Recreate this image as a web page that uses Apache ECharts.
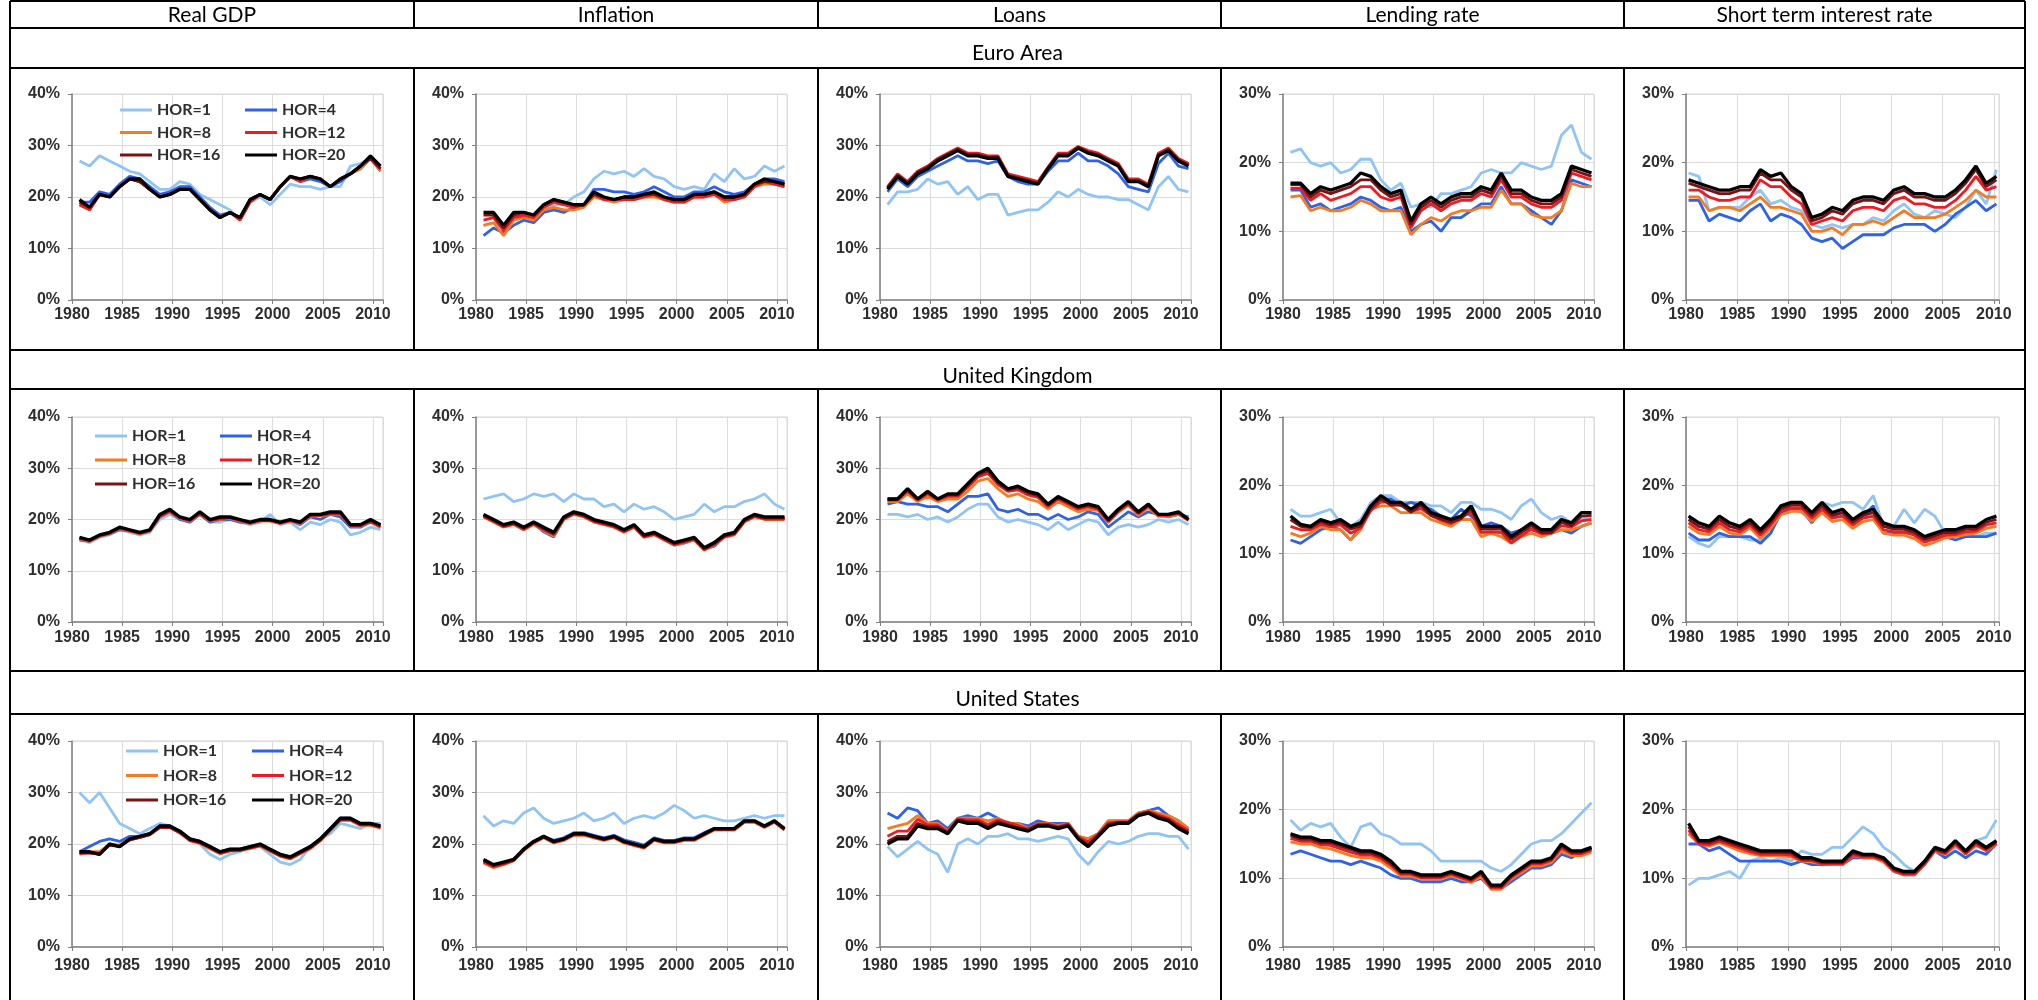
<!DOCTYPE html>
<html>
<head>
<meta charset="utf-8">
<title>Forecast error variance share by horizon</title>
<script src="https://cdn.jsdelivr.net/npm/echarts@6/dist/echarts.min.js"></script>
<style>
  html, body { margin: 0; padding: 0; background: #fff; }
  #chart { width: 2038px; height: 1000px; }
</style>
</head>
<body>
<div id="chart"></div>
<script>
// x positions: quarterly samples read once a year
const datesA = [1980.75,1981.75,1982.75,1983.75,1984.75,1985.75,1986.75,1987.75,1988.75,1989.75,1990.75,1991.75,1992.75,1993.75,1994.75,1995.75,1996.75,1997.75,1998.75,1999.75,2000.75,2001.75,2002.75,2003.75,2004.75,2005.75,2006.75,2007.75,2008.75,2009.75,2010.75];
const datesB = [1980.25,1981.25,1982.25,1983.25,1984.25,1985.25,1986.25,1987.25,1988.25,1989.25,1990.25,1991.25,1992.25,1993.25,1994.25,1995.25,1996.25,1997.25,1998.25,1999.25,2000.25,2001.25,2002.25,2003.25,2004.25,2005.25,2006.25,2007.25,2008.25,2009.25,2010.25];

const horizons = ['HOR=1', 'HOR=4', 'HOR=8', 'HOR=12', 'HOR=16', 'HOR=20'];
const columns = ['Real GDP', 'Inflation', 'Loans', 'Lending rate', 'Short term interest rate'];
const regions = ['Euro Area', 'United Kingdom', 'United States'];
const yMax = [40, 40, 40, 30, 30];

// each panel: rows are HOR=1, 4, 8, 12, 16, 20 (in %)
const eaGdp = [
  [27,26,28,27,26,25,24.5,23,21.5,21.5,23,22.5,20.5,19.5,18.5,17.5,15.5,19,20,18.5,20.5,22.5,22,22,21.5,22,22,26,26.5,27.5,25.5],
  [19,19,21,20.5,22.5,24,23.5,22,20.5,21,22,22,20,18,16.5,17,16,19.5,20.5,19.5,22,24,23,23.5,23,22,23,24.5,25.5,27.5,25],
  [18.5,17.5,20.5,20,22,23.5,23,21.5,20,20.5,21.5,21.5,19.5,17.5,16,17,15.5,19,20.5,19.5,22,24,23,24,23.5,22,23.5,24.5,25.5,27.5,25],
  [18.5,17.5,20.5,20,22,23.5,23,21.5,20,20.5,21.5,21.5,19.5,17.5,16,17,15.5,19,20.5,19.5,22,24,23,24,23.5,22,23.5,24.5,26,27.5,25.5],
  [19,18,20.5,20,22,23.5,23,21.5,20,20.5,21.5,21.5,19.5,17.5,16,17,16,19.5,20.5,19.5,22,24,23.5,24,23.5,22,23.5,24.5,26,27.5,25.5],
  [19.5,18,20.5,20,22,23.5,23.5,21.5,20,20.5,21.5,21.5,19.5,17.5,16,17,16,19.5,20.5,19.5,22,24,23.5,24,23.5,22,23.5,24.5,26,28,26]
];
const eaInf = [
  [14.5,15,14,15.5,16.5,15.5,17.5,18.5,18.5,20,21,23.5,25,24.5,25,24,25.5,24,23.5,22,21.5,22,21.5,24.5,23,25.5,23.5,24,26,25,26],
  [12.5,14,13,14.5,15.5,15,17,17.5,17,18,18.5,21.5,21.5,21,21,20.5,21,22,21,20,20,21,21,22,21,20.5,21,22.5,23.5,23.5,23],
  [14.5,15,12.5,15.5,16,15.5,17.5,18,17.5,17.5,18,20,19.5,19,19.5,19.5,20,20,19.5,19,19,20,20,20.5,19,19.5,20,22,22.5,22.5,22],
  [15.5,16,13.5,16,16.5,16,18,19,18.5,18,18.5,20.5,19.5,19.5,19.5,19.5,20,20.5,19.5,19,19,20,20,20.5,19.5,19.5,20,22,23,22.5,22],
  [16.5,16.5,14,16.5,17,16.5,18.5,19.5,19,18.5,18.5,20.5,20,19.5,20,20,20.5,20.5,20,19.5,19.5,20.5,20.5,21,20,20,20.5,22.5,23,23,22.5],
  [17,17,14.5,17,17,16.5,18.5,19.5,19,18.5,18.5,21,20,19.5,20,20,20.5,21,20,19.5,19.5,20.5,20.5,21,20,20,20.5,22.5,23.5,23,22.5]
];
const eaLoan = [
  [18.5,21,21,21.5,23.5,22.5,23,20.5,22,19.5,20.5,20.5,16.5,17,17.5,17.5,19,21,20,21.5,20.5,20,20,19.5,19.5,18.5,17.5,22,24,21.5,21],
  [21,23.5,22,24,25,26,27,28,27,27,26.5,27,24,23,22.5,22.5,25,27,27,28.5,27,27,26,24.5,22,21.5,21,26.5,28.5,26,25.5],
  [21.8,24.3,22.8,24.8,25.8,27.3,28.3,29.3,28.3,28.3,27.8,27.8,24.3,23.8,23.3,22.8,25.6,28.3,28.3,29.6,28.8,28.3,27.3,26.3,23.3,23.3,22.3,28.3,29.3,27.3,26.3],
  [22,24.5,23,25,26,27.5,28.5,29.5,28.5,28.5,28,28,24.5,24,23.5,23,25.8,28.5,28.5,29.8,29,28.5,27.5,26.5,23.5,23.5,22.5,28.5,29.5,27.5,26.5],
  [21.8,24.2,22.8,24.8,25.8,27.3,28.3,29.3,28.2,28.2,27.7,27.8,24.2,23.7,23.2,22.7,25.7,28.2,28.2,29.6,28.7,28.2,27.2,26.2,23.2,23.2,22.2,28.2,29.2,27.2,26.2],
  [21.5,24,22.5,24.5,25.5,27,28,29,28,28,27.5,27.5,24,23.5,23,22.5,25.5,28,28,29.5,28.5,28,27,26,23,23,22,28,29,27,26]
];
const eaLend = [
  [21.5,22,20,19.5,20,18.5,19,20.5,20.5,17.5,16,17,13.5,14,13.5,15.5,15.5,16,16.5,18.5,19,18.5,18.5,20,19.5,19,19.5,24,25.5,21.5,20.5],
  [16,16,13.5,14,13,13.5,14,15,14.5,13.5,13,13.5,10,11,11.5,10,12,12,13,14,14,16.5,14,14,13,12,11,13,17.5,17,16.5],
  [15,15.2,13,13.5,13,13,13.5,14.5,14,13,13,13,9.5,11,12,11.5,12.5,13,13,13.5,13.5,16,14,14,12.5,12,12,13,17,16.5,16.5],
  [16.3,16.3,14.5,15.5,14.5,15,15.5,16.5,16.5,15,14.5,15,10.5,13,14,13,14,14.5,14.5,15.5,15,17.5,15,15,14,13.5,13.5,14.5,18.5,18,17.5],
  [16.8,16.8,15,16,15.5,16,16.5,17.5,17.5,16,15,15.5,11,13.5,14.5,13.5,14.5,15,15,16,15.5,18,15.5,15.5,14.5,14,14,15,19,18.5,18],
  [17,17,15.5,16.5,16,16.5,17,18.5,18,16.5,15.5,16,11.5,14,15,14,15,15.5,15.5,16.5,16,18.5,16,16,15,14.5,14.5,15.5,19.5,19,18.5]
];
const eaShort = [
  [18.5,18,13,13.5,13.5,13.5,15,16,14,14.5,13.5,13,11,10.5,11,10.5,11,11,12,11.5,13,14,12.5,12,13,12.5,12,13.5,16,14,19],
  [14.5,14.5,11.5,12.5,12,11.5,13,14,11.5,12.5,12,11,9,8.5,9,7.5,8.5,9.5,9.5,9.5,10.5,11,11,11,10,11,12.5,13.5,14.5,13,14],
  [15,15,13,13.5,13.5,13,14,15,13.5,13.5,13,12.5,10,10,10.5,9.5,11,11,11.5,11,12,13,12,12,12,12.5,13.5,14.5,16,15,15],
  [16,16,15,14.5,14.5,15,15,17.5,16.5,16.5,15,14,11,11.5,12,11.5,13,13.5,13.5,13,14.5,15,14,14,13.5,13.5,14.5,16,18,16,16.5],
  [17,16.5,16,15.5,15.5,16,16,18.5,17.5,17.5,16,15,11.5,12,13,12.5,14,14.5,14.5,14,15.5,16,15,15,14.5,14.5,15.5,17,19,16.5,17.5],
  [17.5,17,16.5,16,16,16.5,16.5,19,18,18.5,16.5,15.5,12,12.5,13.5,13,14.5,15,15,14.5,16,16.5,15.5,15.5,15,15,16,17.5,19.5,17,18]
];

const ukGdp = [
  [16,15.5,16.5,17,18,17.5,17,17.5,20,21,20,19.5,21,19.5,19.5,20,19.5,19,19.5,21,19,19.5,18,19.5,19,20,19.5,17,17.5,18.5,18],
  [16,15.8,16.8,17.2,18,17.8,17.2,17.8,20.5,21.5,20,19.5,21,19.5,20,20,19.5,19.3,19.8,19.8,19.3,19.8,19,20.5,20,21,20.5,18.5,18.5,19.5,18.5],
  [16.2,15.7,16.7,17.2,18.2,17.7,17.2,17.7,20.5,21.5,20.2,19.7,21,19.7,20,20.2,19.7,19.2,19.7,19.7,19.2,19.7,19.2,20.7,20.7,21,21,18.7,18.7,19.5,18.5],
  [16.3,15.8,16.8,17.3,18.3,17.8,17.3,17.8,20.6,21.6,20.3,19.8,21.1,19.8,20.1,20.3,19.8,19.3,19.8,19.8,19.3,19.8,19.3,20.8,20.8,21.1,21.1,18.8,18.8,19.6,18.6],
  [16.4,15.9,16.9,17.4,18.4,17.9,17.4,17.9,20.8,21.8,20.4,19.9,21.3,19.9,20.3,20.4,19.9,19.4,19.9,19.9,19.4,19.9,19.4,20.9,20.9,21.3,21.3,18.9,18.9,19.8,18.8],
  [16.5,16,17,17.5,18.5,18,17.5,18,21,22,20.5,20,21.5,20,20.5,20.5,20,19.5,20,20,19.5,20,19.5,21,21,21.5,21.5,19,19,20,19]
];
const ukInf = [
  [24,24.5,25,23.5,24,25,24.5,25,23.5,25,24,24,22.5,23,21.5,23,22,22.5,21.5,20,20.5,21,23,21.5,22.5,22.5,23.5,24,25,23,22],
  [20.8,19.6,18.6,19.2,18,19.2,17.6,16.6,20.2,21.2,20.6,19.6,19.2,18.6,17.6,18.7,16.6,17.1,16.1,15,15.4,16.1,14.2,14.8,16.7,17.2,19.7,20.7,20.2,20.3,20.2],
  [20.5,19.5,18.5,19,18,19,17.8,16.8,20,21,20.5,19.5,19,18.5,17.5,18.5,16.5,17,16,15,15.5,16,14,15,16.5,17,19.5,20.5,20,20,20],
  [20.6,19.6,18.6,19.1,18.1,19.1,18,17,20.1,21.1,20.6,19.6,19.1,18.6,17.6,18.6,16.6,17.1,16.1,15.1,15.6,16.1,14.1,15.1,16.6,17.1,19.6,20.6,20.1,20.1,20.1],
  [20.8,19.8,18.8,19.3,18.3,19.3,18.2,17.2,20.3,21.3,20.8,19.8,19.3,18.8,17.8,18.8,16.8,17.3,16.3,15.3,15.8,16.3,14.3,15.3,16.8,17.3,19.8,20.8,20.3,20.3,20.3],
  [21,20,19,19.5,18.5,19.5,18.5,17.5,20.5,21.5,21,20,19.5,19,18,19,17,17.5,16.5,15.5,16,16.5,14.5,15.5,17,17.5,20,21,20.5,20.5,20.5]
];
const ukLoan = [
  [21,21,20.5,21,20,20.5,19.5,20.5,22,23,23,20.5,19.5,20,19.5,19,18,19.5,18,19,20,19.5,17,18.5,19,18.5,19,20,19.5,20,19],
  [23,23.5,23,23,22.5,22.5,21.5,23,24.5,24.5,25,22,21.5,22,21,21,20,21,20,20.5,21.5,21,18.5,20,21.5,20.5,21.5,21,20.5,21,20.5],
  [23.5,23.5,25,23.5,24.5,23.5,24,24,25.5,27.5,28,26,24.5,25,24,23.5,22,23.5,22.5,21.5,22,21.8,19.4,21.4,22.8,20.8,22.3,20.6,20.6,21,19.8],
  [23.8,23.8,25.5,23.8,25,23.8,24.5,24.5,26.3,28.3,29,26.8,25.5,25.8,24.8,24.3,22.5,24,23,22,22.5,22,19.6,21.6,23,21.1,22.6,20.8,20.8,21.2,19.9],
  [24,24,25.8,24,25.3,24,24.8,24.8,26.7,28.7,29.5,27.2,25.8,26.2,25.2,24.7,22.8,24.3,23.3,22.3,22.8,22.3,19.8,21.8,23.3,21.3,22.8,21,21,21.3,20],
  [24,24,26,24,25.5,24,25,25,27,29,30,27.5,26,26.5,25.5,25,23,24.5,23.5,22.5,23,22.5,20,22,23.5,21.5,23,21,21,21.5,20]
];
const ukLend = [
  [16.5,15.5,15.5,16,16.5,14.5,14,15,17.5,18.5,18.5,17.5,17.5,17.5,17,17,16,17.5,17.5,16.5,16.5,16,15,17,18,16,15,15.5,14.5,15,15.5],
  [12,11.5,12.5,13.5,14,13.5,12,14,17,18,18,17,17.5,17,16.5,15.5,15,16.5,15.5,14,14.5,14,13,13.5,13.5,13,13,13.5,13,14,14.5],
  [13,12.5,13,14,13.5,13.5,12,13.5,16.5,17,17,16,16,16,15,14.5,14,15,15,12.5,13,12.5,11.5,12.5,13,12.5,13,13.5,13.5,14,14.5],
  [14,13.5,13.5,14.3,14,14.2,13,13.8,16.3,17.6,17.5,17.2,16.2,16.6,15.6,14.9,14.4,15.3,16.1,13.1,13.2,13.1,11.6,12.6,13.6,12.9,13,14.1,13.9,14.8,15],
  [15,14,13.8,14.7,14.2,14.6,13.6,14.1,16.6,18.1,17.1,17.1,16.1,17.1,15.6,15.1,14.6,15.1,16.6,13.6,13.6,13.6,12.1,13.1,14.1,13.1,13.1,14.6,14.1,15.5,15.6],
  [15.5,14.3,14,15,14.5,15,14,14.5,17,18.5,17.5,17.5,16.5,17.5,16,15.5,15,15.5,17,14,14,14,12.5,13.5,14.5,13.5,13.5,15,14.5,16,16]
];
const ukShort = [
  [12.5,11.5,11,12.5,12.5,12.5,12,12,13,16,16.5,16,15,17.5,17,17.5,17.5,16.5,18.5,14,14,16.5,14.5,16.5,15.5,13,12.5,13,12.5,13,13],
  [13,12,12,13,12.5,12.5,12.5,11.5,13,16,16.5,16.5,14.5,16.5,15.5,16,15,15.5,17,13,13,13,13,12.5,12,12.5,12,12.5,12.5,12.5,13],
  [14,13,12.8,14,13,12.8,13.8,12.2,13.7,15.7,16.2,16.2,14.7,16,14.7,15,13.7,14.7,15,13,12.7,12.7,12.2,11.2,11.7,12.3,12.5,12.8,13,13.7,14],
  [14.5,13.5,13.2,14.5,13.5,13.2,14.2,12.7,14.2,16.2,16.7,16.7,15.2,16.5,15.2,15.5,14.2,15.2,15.5,13.5,13.2,13.2,12.7,11.7,12.2,12.7,12.8,13.2,13.3,14.2,14.5],
  [15,14,13.6,15,14,13.6,14.6,13.1,14.6,16.6,17.1,17.1,15.6,17,15.6,16,14.6,15.6,16,14,13.6,13.6,13.1,12.1,12.6,13.1,13.1,13.6,13.6,14.6,15],
  [15.5,14.5,14,15.5,14.5,14,15,13.5,15,17,17.5,17.5,16,17.5,16,16.5,15,16,16.5,14.5,14,14,13.5,12.5,13,13.5,13.5,14,14,15,15.5]
];

const usGdp = [
  [30,28,30,27,24,23,22,23,24,23.5,22,21,20,18,17,18,18.5,19.5,19.5,18,16.5,16,17,19.5,21,22,24,23.5,23,24,24],
  [18.5,19.5,20.5,21,20.5,21.5,21.5,22,23.5,23.5,22.5,21,20.5,19.5,18.5,19,19,19.5,20,19,18,17.5,18.5,19.5,21,23,25,25,24,24,23.5],
  [18,18.5,18.5,20,19.8,21,21.3,21.8,23.2,23.2,22.2,20.6,20.1,19.1,18.1,18.6,18.7,19.1,19.6,18.6,17.6,17.1,18.1,19.1,20.6,22.6,24.6,24.6,23.6,23.6,23.1],
  [18.2,18.3,18.2,19.8,19.6,20.8,21.3,21.8,23.2,23.2,22.2,20.7,20.2,19.2,18.2,18.7,18.8,19.2,19.7,18.7,17.7,17.2,18.2,19.2,20.7,22.7,24.7,24.7,23.7,23.7,23.2],
  [18.3,18.3,18,19.8,19.5,20.8,21.3,21.8,23.3,23.3,22.3,20.8,20.3,19.3,18.3,18.8,18.8,19.3,19.8,18.8,17.8,17.3,18.3,19.3,20.8,22.8,24.8,24.8,23.8,23.8,23.3],
  [18.5,18.5,18,20,19.5,21,21.5,22,23.5,23.5,22.5,21,20.5,19.5,18.5,19,19,19.5,20,19,18,17.5,18.5,19.5,21,23,25,25,24,24,23.5]
];
const usInf = [
  [25.5,23.5,24.5,24,26,27,25,24,24.5,25,26,24.5,25,26,24,25,25.5,25,26,27.5,26.5,25,25.5,25,24.5,24.5,25,25.5,25,25.5,25.5],
  [16.5,15.5,16.2,17,19,20.5,21.5,20.7,21.2,22.2,22.2,21.7,21.2,21.7,20.8,20.3,19.8,21.2,20.7,20.7,21.2,21.2,22.2,23,23,23,24.5,24.5,23.5,24.5,23],
  [16.3,15.4,16,16.7,18.7,20.2,21.2,20.2,20.7,21.7,21.7,21.2,20.7,21.2,20.2,19.7,19.2,20.7,20.2,20.2,20.7,20.7,21.7,22.7,22.7,22.7,24.2,24.2,23.2,24.2,22.7],
  [16.5,15.6,16.1,16.8,18.8,20.3,21.3,20.3,20.8,21.8,21.8,21.3,20.8,21.3,20.3,19.8,19.3,20.8,20.3,20.3,20.8,20.8,21.8,22.8,22.8,22.8,24.3,24.3,23.3,24.3,22.8],
  [16.8,15.8,16.3,16.9,18.9,20.4,21.4,20.4,20.9,21.9,21.9,21.4,20.9,21.4,20.4,19.9,19.4,20.9,20.4,20.4,20.9,20.9,21.9,22.9,22.9,22.9,24.4,24.4,23.4,24.4,22.9],
  [17,16,16.5,17,19,20.5,21.5,20.5,21,22,22,21.5,21,21.5,20.5,20,19.5,21,20.5,20.5,21,21,22,23,23,23,24.5,24.5,23.5,24.5,23]
];
const usLoan = [
  [19.5,17.5,19,20.5,19,18,14.5,20,21,20,21.5,21.5,22,21,21,20.5,21,21.5,21,18,16,18.5,20.5,20,20.5,21.5,22,22,21.5,21.5,19],
  [26,25,27,26.5,24,24.5,23,25,25.5,25,26,25,24,24,23.5,24.5,24,24,24,21.5,21,22,24.5,24.5,24.5,26,26.5,27,25.5,24.5,23],
  [23,23.5,24,25.5,24,24,22.5,25,25,25,24.5,25,24,24,23,24,24,23.5,24,21.5,21,22,24.5,24.5,24.5,26,26.5,26,25.5,24.5,23],
  [21.5,22.5,22.5,24.8,23.7,23.7,22.4,24.9,24.7,24.7,23.8,24.7,24.2,23.6,22.9,23.9,23.9,23.4,23.9,21.4,20.4,21.9,24.1,24.3,24.3,25.8,26.3,25.6,25,23.8,22.6],
  [20.5,21.5,21.5,24,23.3,23.3,22.2,24.7,24.3,24.3,23.3,24.3,23.7,23.2,22.7,23.7,23.7,23.2,23.7,21.2,19.8,21.7,23.8,24.2,24.2,25.7,26.2,25.3,24.7,23.3,22.3],
  [20,21,21,23.5,23,23,22,24.5,24,24,23,24,23.5,23,22.5,23.5,23.5,23,23.5,21,19.5,21.5,23.5,24,24,25.5,26,25,24.5,23,22]
];
const usLend = [
  [18.5,17,18,17.5,18,16,14.5,17.5,18,16.5,16,15,15,15,14,12.5,12.5,12.5,12.5,12.5,11.5,11,12,13.5,15,15.5,15.5,16.5,18,19.5,21],
  [13.5,14,13.5,13,12.5,12.5,12,12.5,12,11.5,10.5,10,10,9.5,9.5,9.5,10,9.5,9.5,10,8.5,8.5,9.5,10.5,11.5,11.5,12,13.5,13,14,14.5],
  [15.3,15,15,14.5,14.3,13.8,13.3,13,13,12.5,11.5,10.3,10.3,9.9,9.9,9.9,10.4,9.9,9.4,10.3,8.4,8.4,9.9,10.8,11.8,11.8,12.3,14,13.3,13.3,13.8],
  [15.8,15.4,15.4,14.9,14.8,14.3,13.8,13.4,13.4,12.9,11.9,10.6,10.6,10.1,10.1,10.1,10.6,10.1,9.6,10.6,8.6,8.6,10.1,11.1,12.1,12.1,12.6,14.4,13.6,13.6,14.1],
  [16.2,15.7,15.7,15.2,15.2,14.7,14.2,13.7,13.7,13.2,12.2,10.8,10.8,10.3,10.3,10.3,10.8,10.3,9.8,10.8,8.8,8.8,10.3,11.3,12.3,12.3,12.8,14.7,13.8,13.8,14.3],
  [16.5,16,16,15.5,15.5,15,14.5,14,14,13.5,12.5,11,11,10.5,10.5,10.5,11,10.5,10,11,9,9,10.5,11.5,12.5,12.5,13,15,14,14,14.5]
];
const usShort = [
  [9,10,10,10.5,11,10,12.5,13,12.5,13,12.5,14,13.5,13.5,14.5,14.5,16,17.5,16.5,14.5,13.5,12,11,12.5,14.5,13.5,14.5,14,15.5,16,18.5],
  [15,15,14,14.5,13.5,12.5,12.5,12.5,12.5,12.5,12,12.5,12,12,12,12,13,13,13,12.5,11,10.5,10.5,12,14,13,14,13,14,13.5,15],
  [16.5,15,14.7,15.2,14.6,14,13.6,13.3,13.3,13.3,13.1,12.5,12.4,12.1,12,12,13.3,13,13,12.4,11,10.5,10.5,12,14,13.5,14.8,13.5,14.8,14,15],
  [17,15,14.9,15.4,14.9,14.4,13.9,13.5,13.5,13.5,13.4,12.6,12.6,12.1,12.1,12.1,13.4,13.1,13.1,12.6,11.1,10.6,10.6,12.1,14.1,13.6,15,13.6,15,14.1,15.1],
  [17.5,15.3,15.2,15.7,15.2,14.7,14.2,13.8,13.8,13.8,13.7,12.8,12.8,12.3,12.3,12.3,13.7,13.3,13.3,12.8,11.3,10.8,10.8,12.3,14.3,13.8,15.3,13.8,15.3,14.3,15.3],
  [18,15.5,15.5,16,15.5,15,14.5,14,14,14,14,13,13,12.5,12.5,12.5,14,13.5,13.5,13,11.5,11,11,12.5,14.5,14,15.5,14,15.5,14.5,15.5]
];

const panels = [
  [eaGdp, eaInf, eaLoan, eaLend, eaShort],
  [ukGdp, ukInf, ukLoan, ukLend, ukShort],
  [usGdp, usInf, usLoan, usLend, usShort]
];

const colors = ['#90c4f4', '#2f62e6', '#f37b22', '#ec1c24', '#7a1214', '#000000'];

// table layout
const colLeft = [10, 414, 818, 1221, 1624];
const tableRight = 2025;
const rowTop = [68, 389, 714];
const rowBottom = [350, 671, 1000];
const labelY = [53, 376, 699];
const plotOffset = [26, 28, 27];
const plotH = [206, 205, 206];
const xLabelMargin = [7, 8, 11];
const legendPos = [
  { top: 102, a: 120, b: 245, gap: 6.5 },
  { top: 428, a: 95, b: 220, gap: 8 },
  { top: 743, a: 126, b: 252, gap: 8.5 }
];

const tickFont = { fontFamily: "'Liberation Sans', Arial", fontWeight: 'bold', fontSize: 16, color: '#2e2e2e' };
const axisGray = '#808080';

const grids = [], xAxes = [], yAxes = [], series = [], legends = [];

regions.forEach(function (reg, r) {
  columns.forEach(function (col, c) {
    const idx = r * 5 + c;
    const last = c === 4;
    const dates = last ? datesB : datesA;
    grids.push({
      left: colLeft[c] + 62, top: rowTop[r] + plotOffset[r],
      width: last ? 313 : 311, height: plotH[r],
      show: true, borderColor: '#d6d6d6', borderWidth: 1
    });
    xAxes.push({
      gridIndex: idx, type: 'value', min: 1980, max: last ? 2010.5 : 2011, interval: 5,
      axisLine: { onZero: false, lineStyle: { color: axisGray, width: 1.5 } },
      axisTick: { show: true, length: 4, lineStyle: { color: axisGray } },
      splitLine: { show: true, lineStyle: { color: '#dcdcdc', width: 1 } },
      axisLabel: Object.assign({ margin: xLabelMargin[r], formatter: function (v) { return v % 5 === 0 ? String(v) : ''; } }, tickFont)
    });
    yAxes.push({
      gridIndex: idx, type: 'value', min: 0, max: yMax[c], interval: 10,
      axisLine: { show: true, onZero: false, lineStyle: { color: axisGray, width: 1.5 } },
      axisTick: { show: true, length: 4, lineStyle: { color: axisGray } },
      splitLine: { show: true, lineStyle: { color: '#dcdcdc', width: 1 } },
      axisLabel: Object.assign({ margin: 12, formatter: '{value}%' }, tickFont)
    });
    panels[r][c].forEach(function (vals, h) {
      series.push({
        type: 'line', name: horizons[h], xAxisIndex: idx, yAxisIndex: idx,
        data: vals.map(function (v, i) { return [dates[i], v]; }),
        showSymbol: false, symbol: 'none',
        lineStyle: { width: h === 5 ? 3.3 : 2.8, color: colors[h] },
        itemStyle: { color: colors[h] }
      });
    });
  });
  const lp = legendPos[r];
  [[0, 2, 4], [1, 3, 5]].forEach(function (set, k) {
    legends.push({
      orient: 'vertical', left: k === 0 ? lp.a : lp.b, top: lp.top,
      itemGap: lp.gap, itemWidth: 32, itemHeight: 3, icon: 'rect',
      selectedMode: false, padding: 0,
      textStyle: { fontFamily: 'Lato', fontWeight: 'bold', fontSize: 16, color: '#2e2e2e', lineHeight: 16 },
      data: set.map(function (h) { return horizons[h]; })
    });
  });
});

// table frame, headers and region labels
const graphics = [];
function hline(y) {
  graphics.push({ type: 'line', shape: { x1: colLeft[0], y1: y, x2: tableRight, y2: y }, style: { stroke: '#000', lineWidth: 2 } });
}
function vline(x, y1, y2) {
  graphics.push({ type: 'line', shape: { x1: x, y1: y1, x2: x, y2: y2 }, style: { stroke: '#000', lineWidth: 2 } });
}
[1, 28, 68, 350, 389, 671, 714].forEach(hline);
vline(colLeft[0], 1, 1000);
vline(tableRight, 1, 1000);
for (let c = 1; c < 5; c++) {
  vline(colLeft[c], 1, 28);
  rowTop.forEach(function (t, r) { vline(colLeft[c], t, rowBottom[r]); });
}
const cellFont = '21px Lato';
columns.forEach(function (name, c) {
  const right = c < 4 ? colLeft[c + 1] : tableRight;
  graphics.push({
    type: 'text', x: (colLeft[c] + right) / 2, y: 15,
    style: { text: name, font: cellFont, fill: '#000', align: 'center', verticalAlign: 'middle', textAlign: 'center', textVerticalAlign: 'middle' }
  });
});
regions.forEach(function (name, r) {
  graphics.push({
    type: 'text', x: (colLeft[0] + tableRight) / 2, y: labelY[r],
    style: { text: name, font: cellFont, fill: '#000', align: 'center', verticalAlign: 'middle', textAlign: 'center', textVerticalAlign: 'middle' }
  });
});

const chart = echarts.init(document.getElementById('chart'), null, { renderer: 'canvas' });
chart.setOption({
  animation: false,
  backgroundColor: '#fff',
  grid: grids,
  xAxis: xAxes,
  yAxis: yAxes,
  legend: legends,
  series: series,
  graphic: { elements: graphics }
});
</script>
</body>
</html>
